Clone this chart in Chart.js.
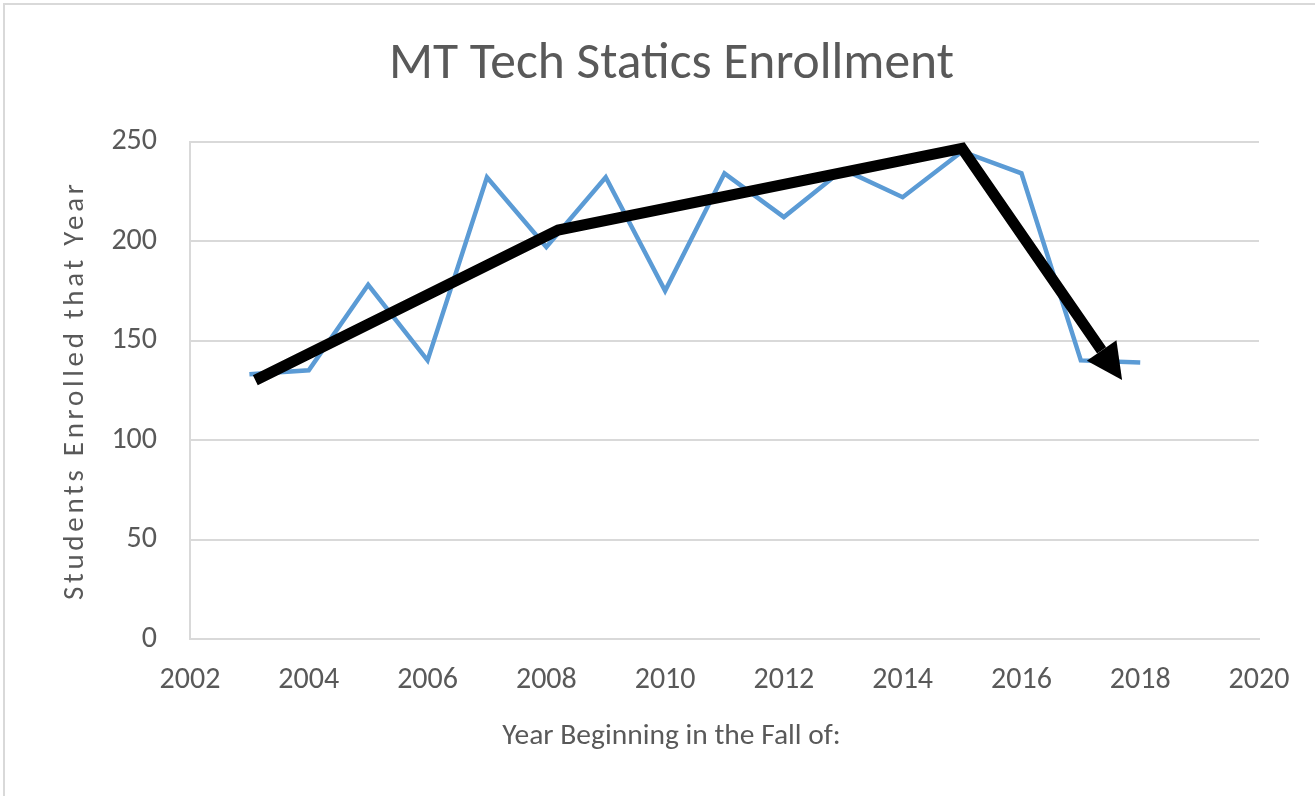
<!DOCTYPE html>
<html>
<head>
<meta charset="utf-8">
<script src="https://cdn.jsdelivr.net/npm/chart.js@4.4.0/dist/chart.umd.min.js"></script>
<style>
html,body{margin:0;padding:0;background:#fff;}
#wrap{position:relative;width:1315px;height:796px;}
canvas{display:block;}
</style>
</head>
<body>
<div id="wrap"><canvas id="c" width="1315" height="796"></canvas></div>
<script>
// ---- data ----
const chartTitle = 'MT Tech Statics Enrollment';
const xAxisTitle = 'Year Beginning in the Fall of:';
const yAxisTitle = 'Students Enrolled that Year';

const years      = [2003, 2004, 2005, 2006, 2007, 2008, 2009, 2010, 2011, 2012, 2013, 2014, 2015, 2016, 2017, 2018];
const enrollment = [ 133,  135,  178,  140,  232,  197,  232,  175,  234,  212,  236,  222,  245,  234,  140,  139];

// hand-drawn trend arrow (annotation), in data units
const trendYears  = [2003.1, 2008.2, 2015.0, 2017.35];
const trendValues = [ 130,    205.5,  246.5,  145];

const xTicks = [2002, 2004, 2006, 2008, 2010, 2012, 2014, 2016, 2018, 2020];
const yTicks = [0, 50, 100, 150, 200, 250];

// ---- styling ----
const FONT = "Carlito, Calibri, Lato, 'Open Sans', sans-serif";
const TEXT = '#595959';
const GRID = '#d9d9d9';

const frame = {
  id: 'frame',
  beforeDraw(chart) {
    const ctx = chart.ctx;
    ctx.save();
    ctx.fillStyle = '#fff';
    ctx.fillRect(0, 0, chart.width, chart.height);
    ctx.strokeStyle = GRID;
    ctx.lineWidth = 2;
    ctx.beginPath();
    ctx.moveTo(4, chart.height);
    ctx.lineTo(4, 4);
    ctx.lineTo(chart.width, 4);
    ctx.stroke();
    ctx.restore();
  }
};

const arrowHead = {
  id: 'arrowHead',
  afterDatasetsDraw(chart) {
    const meta = chart.getDatasetMeta(0);
    const pts = meta.data;
    const n = pts.length;
    const ctx = chart.ctx;
    if (n >= 2) {
      const a = pts[n - 2], b = pts[n - 1];
      const dx = b.x - a.x, dy = b.y - a.y;
      const len = Math.hypot(dx, dy);
      const ux = dx / len, uy = dy / len;
      const L = 36, W = 18;
      ctx.save();
      ctx.fillStyle = '#000';
      ctx.beginPath();
      ctx.moveTo(b.x + ux * L, b.y + uy * L);
      ctx.lineTo(b.x - uy * W, b.y + ux * W);
      ctx.lineTo(b.x + uy * W, b.y - ux * W);
      ctx.closePath();
      ctx.fill();
      ctx.restore();
    }
    // wider tracking for the vertical axis title (drawn in the next layer)
    ctx.letterSpacing = '3.7px';
  },
  afterDraw(chart) {
    chart.ctx.letterSpacing = '0px';
  }
};

new Chart(document.getElementById('c'), {
  type: 'line',
  data: {
    datasets: [
      {
        label: 'Trend',
        data: trendYears.map((x, i) => ({ x, y: trendValues[i] })),
        borderColor: '#000',
        borderWidth: 11,
        borderCapStyle: 'butt',
        borderJoinStyle: 'miter',
        pointRadius: 0,
        tension: 0,
        fill: false,
        order: 0
      },
      {
        label: 'Enrollment',
        data: years.map((x, i) => ({ x, y: enrollment[i] })),
        borderColor: '#5b9bd5',
        borderWidth: 4.5,
        borderJoinStyle: 'miter',
        pointRadius: 0,
        tension: 0,
        fill: false,
        order: 1
      }
    ]
  },
  options: {
    responsive: false,
    animation: false,
    devicePixelRatio: 1,
    layout: { padding: { left: 28, right: 0, top: 0, bottom: 0 } },
    plugins: {
      legend: { display: false },
      tooltip: { enabled: false },
      title: {
        display: true,
        text: chartTitle,
        color: TEXT,
        font: { family: FONT, size: 51.5, weight: 'normal' },
        padding: { top: 34, bottom: 45.7 }
      },
      subtitle: {
        display: true,
        position: 'bottom',
        text: xAxisTitle,
        color: TEXT,
        font: { family: FONT, size: 29.5, weight: 'normal' },
        padding: { top: 10, bottom: 41.3 }
      }
    },
    scales: {
      x: {
        type: 'linear',
        min: 2002,
        max: 2020,
        afterBuildTicks: s => { s.ticks = xTicks.map(v => ({ value: v })); },
        afterFit: s => { s.height = 70.3; s.paddingRight = 56; },
        ticks: {
          callback: v => String(v),
          color: TEXT,
          font: { family: FONT, size: 30 },
          padding: 23,
          maxRotation: 0,
          autoSkip: false
        },
        grid: { display: false, drawTicks: false },
        border: { display: true, color: GRID, width: 2 }
      },
      y: {
        type: 'linear',
        position: 'left',
        weight: 0,
        min: 0,
        max: 250,
        afterBuildTicks: s => { s.ticks = yTicks.map(v => ({ value: v })); },
        afterFit: s => { s.width = 86; },
        ticks: {
          color: TEXT,
          font: { family: FONT, size: 30 },
          padding: 33
        },
        grid: { color: GRID, lineWidth: 2, drawTicks: false },
        border: { display: true, color: GRID, width: 2 }
      },
      yTitle: {
        type: 'linear',
        position: 'left',
        weight: 1,
        min: 0,
        max: 250,
        afterFit: s => { s.width = 76; },
        ticks: { display: false },
        grid: { display: false, drawTicks: false, z: 1 },
        border: { display: false },
        title: {
          display: true,
          text: yAxisTitle,
          color: TEXT,
          font: { family: FONT, size: 29 },
          padding: { top: 30.6, bottom: 0 }
        }
      }
    }
  },
  plugins: [frame, arrowHead]
});
</script>
</body>
</html>
